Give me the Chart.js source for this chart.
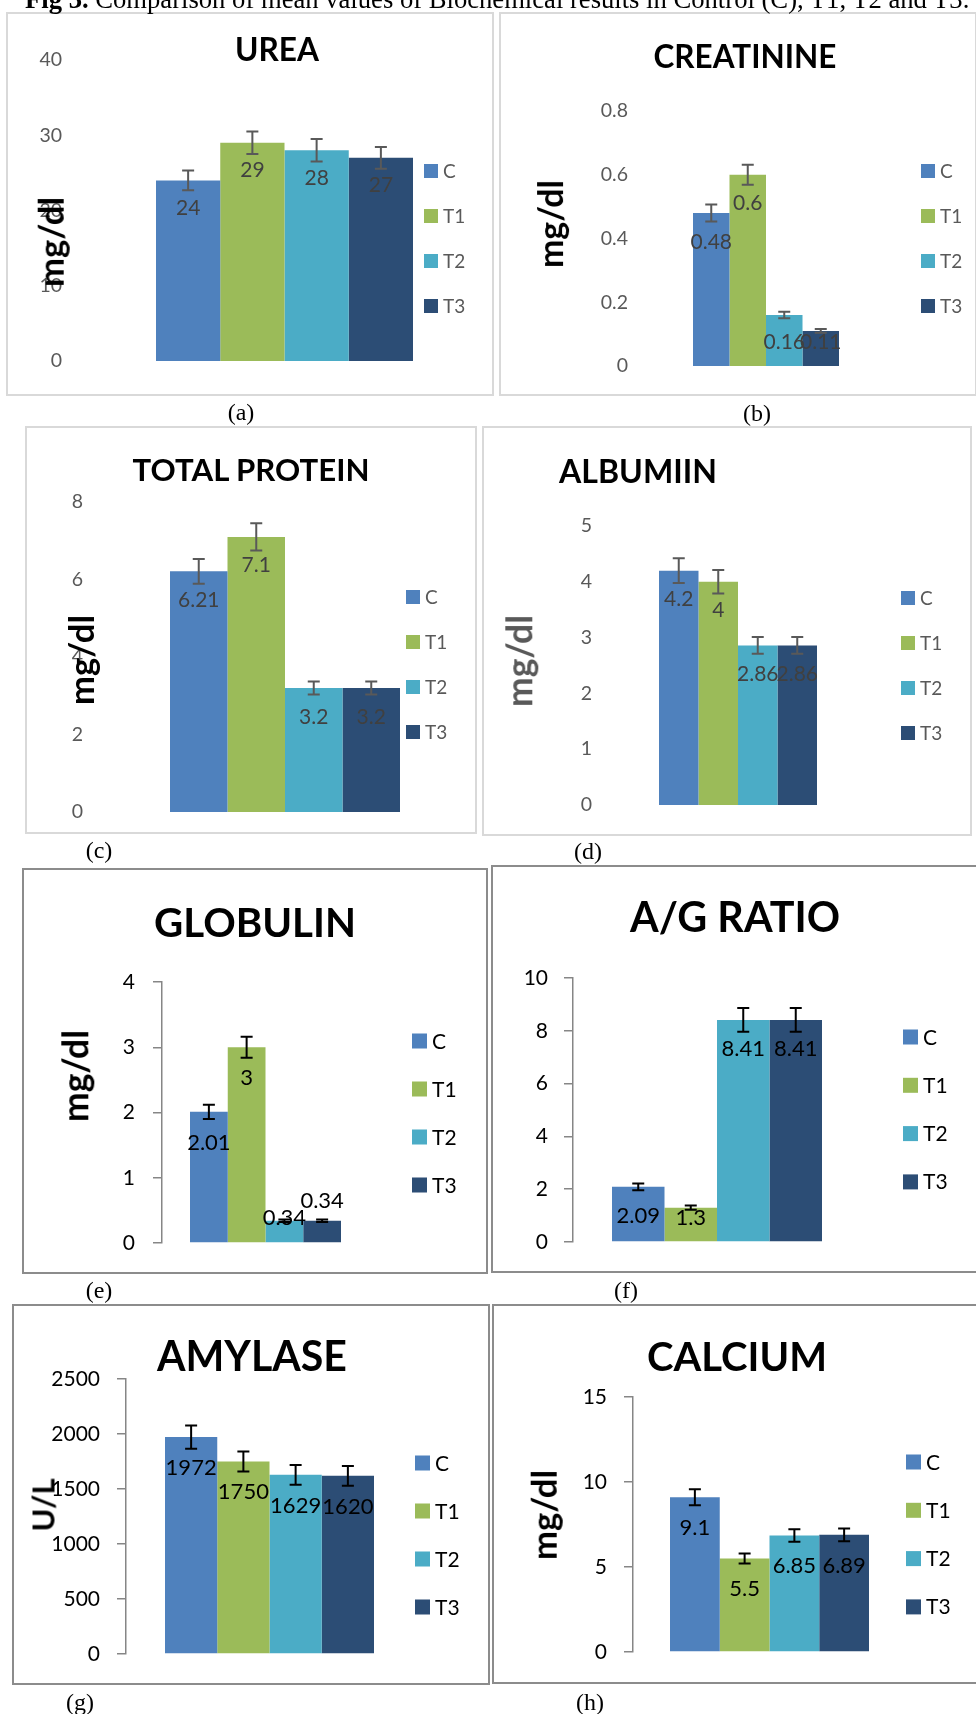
<!DOCTYPE html>
<html>
<head>
<meta charset="utf-8">
<script src="https://cdn.jsdelivr.net/npm/chart.js@4.4.1/dist/chart.umd.min.js"></script>
<style>
  html, body { margin: 0; padding: 0; background: #fff; }
  #page { position: relative; width: 976px; height: 1714px; overflow: hidden; background: #fff; }
  canvas.full { position: absolute; left: 0; top: 0; }
  .box { position: absolute; box-sizing: border-box; border: 2px solid #d9d9d9; }
  .t { position: absolute; white-space: nowrap; transform: translate(-50%, -50%); }
  .cap { position: absolute; white-space: nowrap; font-family: "Liberation Serif", serif; color: #000; line-height: 1; }
</style>
</head>
<body>
<div id="page"></div>
<script>
// ---------------- DATA ----------------
const SERIES = ['C', 'T1', 'T2', 'T3'];

const UREA = [24, 29, 28, 27];
const UREA_ERR = [1.3, 1.5, 1.5, 1.45];
const UREA_TICKS = [0, 10, 20, 30, 40];

const CREAT = [0.48, 0.6, 0.16, 0.11];
const CREAT_ERR = [0.027, 0.031, 0.01, 0.006];
const CREAT_TICKS = [0, 0.2, 0.4, 0.6, 0.8];

const TPROT = [6.21, 7.1, 3.2, 3.2];
const TPROT_ERR = [0.32, 0.35, 0.17, 0.17];
const TPROT_TICKS = [0, 2, 4, 6, 8];

const ALB = [4.2, 4, 2.86, 2.86];
const ALB_ERR = [0.22, 0.21, 0.15, 0.15];
const ALB_TICKS = [0, 1, 2, 3, 4, 5];

const GLOB = [2.01, 3, 0.34, 0.34];
const GLOB_ERR = [0.11, 0.16, 0.02, 0.02];
const GLOB_TICKS = [0, 1, 2, 3, 4];

const AGR = [2.09, 1.3, 8.41, 8.41];
const AGR_ERR = [0.13, 0.08, 0.45, 0.45];
const AGR_TICKS = [0, 2, 4, 6, 8, 10];

const AMY = [1972, 1750, 1629, 1620];
const AMY_ERR = [105, 91, 90, 90];
const AMY_TICKS = [0, 500, 1000, 1500, 2000, 2500];

const CALC = [9.1, 5.5, 6.85, 6.89];
const CALC_ERR = [0.47, 0.3, 0.37, 0.37];
const CALC_TICKS = [0, 5, 10, 15];

const CAPTION_BOLD = 'Fig 3.';
const CAPTION_TEXT = ' Comparison of mean values of Biochemical results in Control (C), T1, T2 and T3.';

// ---------------- STYLE / LAYOUT ----------------
const COLORS = ['#4F81BD', '#9BBB59', '#4BACC6', '#2C4D75'];

const PANELS = [
  { title: 'UREA', unit: 'mg/dl', vals: UREA, errs: UREA_ERR, ticks: UREA_TICKS, dark: false,
    box: [7, 13, 493, 395], titleXY: [277, 50], titleW: 84, unitXY: [51, 242], unitL: 90, unitColor: '#000',
    tickRight: 62, axisX: 72, top: 60, base: 361, group: [156, 413], leg: [424, 171, 45], letter: ['(a)', 241, 412], dy: 27 },
  { title: 'CREATININE', unit: 'mg/dl', vals: CREAT, errs: CREAT_ERR, ticks: CREAT_TICKS, dark: false,
    box: [500, 13, 976, 395], titleXY: [745, 57], titleW: 183, unitXY: [551, 224], unitL: 88, unitColor: '#000',
    tickRight: 628, axisX: 638, top: 111, base: 366, group: [693, 839], leg: [921, 171, 45], letter: ['(b)', 757, 413], dy: 28 },
  { title: 'TOTAL PROTEIN', unit: 'mg/dl', vals: TPROT, errs: TPROT_ERR, ticks: TPROT_TICKS, dark: false,
    box: [26, 427, 476, 833], titleXY: [251, 470], titleW: 238, unitXY: [81, 660], unitL: 90, unitColor: '#000',
    tickRight: 83, axisX: 93, top: 502, base: 812, group: [170, 400], leg: [406, 597, 45], letter: ['(c)', 99, 850], dy: 28 },
  { title: 'ALBUMIIN', unit: 'mg/dl', vals: ALB, errs: ALB_ERR, ticks: ALB_TICKS, dark: false,
    box: [483, 427, 971, 835], titleXY: [638, 471], titleW: 158, unitXY: [519, 661], unitL: 92, unitColor: '#595959',
    tickRight: 592, axisX: 602, top: 526, base: 805, group: [659, 817], leg: [901, 598, 45], letter: ['(d)', 588, 851], dy: 28 },
  { title: 'GLOBULIN', unit: 'mg/dl', vals: GLOB, errs: GLOB_ERR, ticks: GLOB_TICKS, dark: true,
    box: [23, 869, 487, 1273], titleXY: [255, 922], titleW: 202, unitXY: [75, 1076], unitL: 92, unitColor: '#000',
    tickRight: 135, axisX: 162, top: 982, base: 1243, group: [190, 341], leg: [412, 1041, 48], letter: ['(e)', 99, 1290], dy: [30, 30, -4, -21] },
  { title: 'A/G RATIO', unit: null, vals: AGR, errs: AGR_ERR, ticks: AGR_TICKS, dark: true,
    box: [492, 866, 995, 1272], titleXY: [735, 917], titleW: 210,
    tickRight: 548, axisX: 573, top: 978, base: 1242, group: [612, 822], leg: [903, 1037, 48.3], letter: ['(f)', 626, 1290], dy: 28 },
  { title: 'AMYLASE', unit: 'U/L', vals: AMY, errs: AMY_ERR, ticks: AMY_TICKS, dark: true,
    box: [13, 1305, 489, 1684], titleXY: [252, 1356], titleW: 190, unitXY: [43, 1505], unitL: 53, unitColor: '#000',
    tickRight: 100, axisX: 126, top: 1379, base: 1654, group: [165, 374], leg: [415, 1463, 48], letter: ['(g)', 80, 1702], dy: 30 },
  { title: 'CALCIUM', unit: 'mg/dl', vals: CALC, errs: CALC_ERR, ticks: CALC_TICKS, dark: true,
    box: [493, 1305, 995, 1683], titleXY: [737, 1356], titleW: 180, unitXY: [544, 1515], unitL: 90, unitColor: '#000',
    tickRight: 607, axisX: 633, top: 1397, base: 1652, group: [670, 869], leg: [906, 1462, 48.3], letter: ['(h)', 590, 1702], dy: 30 }
];

const W = 976, H = 1714, TL = 9;
const page = document.getElementById('page');
const mctx = document.createElement('canvas').getContext('2d');
function textW(txt, font) { mctx.font = font; return mctx.measureText(txt).width; }
function fitSize(txt, weight, family, target) { return 100 * target / textW(txt, `${weight} 100px ${family}`); }

Chart.defaults.font.family = 'Lato';

function addText(txt, cx, cy, size, weight, family, color, rotate) {
  const d = document.createElement('div');
  d.className = 't';
  d.textContent = txt;
  d.style.font = `${weight} ${size}px/1 ${family}`;
  d.style.color = color;
  d.style.left = cx + 'px';
  d.style.top = cy + 'px';
  if (rotate) d.style.transform = 'translate(-50%, -50%) rotate(-90deg)';
  page.appendChild(d);
  return d;
}

// boxes
PANELS.forEach(p => {
  const b = document.createElement('div');
  b.className = 'box';
  const [l, t, r, bt] = p.box;
  b.style.left = (l - 1) + 'px';
  b.style.top = (t - 1) + 'px';
  b.style.width = (r - l + 2) + 'px';
  b.style.height = (bt - t + 2) + 'px';
  b.style.borderColor = p.dark ? '#8c8c8c' : '#d9d9d9';
  page.appendChild(b);
});

function overlay(p) {
  return {
    id: 'overlay',
    afterDatasetsDraw(chart) {
      const ctx = chart.ctx;
      const ys = chart.scales.y;
      const base = ys.getPixelForValue(0);
      const lf = p.dark ? 22 : 21;
      ctx.save();
      // data labels
      ctx.font = `${lf}px Lato`;
      ctx.textAlign = 'center';
      ctx.textBaseline = 'alphabetic';
      ctx.fillStyle = p.dark ? '#000' : '#404040';
      p.vals.forEach((v, i) => {
        const el = chart.getDatasetMeta(i).data[0];
        const dy = Array.isArray(p.dy) ? p.dy[i] : p.dy;
        let cy = el.y + dy;
        if (dy > 0) cy = Math.min(cy, base - 25);
        ctx.fillText(String(v), el.x, cy + 0.36 * lf);
      });
      // error bars
      ctx.strokeStyle = p.dark ? '#000' : '#595959';
      ctx.lineWidth = 2;
      p.vals.forEach((v, i) => {
        const el = chart.getDatasetMeta(i).data[0];
        const y1 = ys.getPixelForValue(v + p.errs[i]);
        const y2 = ys.getPixelForValue(v - p.errs[i]);
        const x = el.x;
        ctx.beginPath();
        ctx.moveTo(x, y1); ctx.lineTo(x, y2);
        ctx.moveTo(x - 6, y1); ctx.lineTo(x + 6, y1);
        ctx.moveTo(x - 6, y2); ctx.lineTo(x + 6, y2);
        ctx.stroke();
      });
      // legend
      const [lx, ly, gap] = p.leg;
      const sq = p.dark ? 15 : 14;
      const tf = p.dark ? 21 : 19;
      ctx.font = `${tf}px Lato`;
      ctx.textAlign = 'left';
      chart.data.datasets.forEach((ds, i) => {
        const cy = ly + i * gap;
        ctx.fillStyle = ds.backgroundColor;
        ctx.fillRect(lx, cy - sq / 2, sq, sq);
        ctx.fillStyle = p.dark ? '#000' : '#595959';
        ctx.fillText(ds.label, lx + sq + 5, cy + 0.36 * tf);
      });
      ctx.restore();
    }
  };
}

PANELS.forEach(p => {
  const cv = document.createElement('canvas');
  cv.className = 'full';
  cv.width = W; cv.height = H;
  cv.style.width = W + 'px'; cv.style.height = H + 'px';
  page.appendChild(cv);

  const YW = p.axisX - p.box[0] - 3;
  const cx = (p.group[0] + p.group[1]) / 2;
  const R = 2 * cx - p.axisX;
  const cp = (p.group[1] - p.group[0]) / (R - p.axisX);
  const tl = p.dark ? TL : 0;
  const tpad = p.axisX - tl - p.tickRight;
  const tickCol = p.dark ? '#000' : '#595959';
  const tickSize = p.dark ? 21 : 19.5;
  const tks = p.ticks;

  new Chart(cv, {
    type: 'bar',
    data: {
      labels: [''],
      datasets: SERIES.map((s, i) => ({
        label: s,
        data: [p.vals[i]],
        backgroundColor: COLORS[i],
        borderWidth: 0,
        categoryPercentage: cp,
        barPercentage: 1
      }))
    },
    options: {
      responsive: false,
      maintainAspectRatio: false,
      animation: false,
      devicePixelRatio: 1,
      events: [],
      layout: { padding: { left: p.axisX - YW, right: W - R, top: p.top, bottom: H - p.base } },
      plugins: { legend: { display: false }, title: { display: false }, tooltip: { enabled: false } },
      scales: {
        x: { display: false, offset: true },
        y: {
          min: tks[0], max: tks[tks.length - 1],
          afterBuildTicks: sc => { sc.ticks = tks.map(v => ({ value: v })); },
          afterFit: sc => { sc.width = YW; },
          ticks: { callback: v => String(v), color: tickCol, font: { family: 'Lato', size: tickSize }, padding: tpad, autoSkip: false },
          grid: { display: p.dark, drawOnChartArea: false, drawTicks: p.dark, tickLength: tl, color: '#868686', lineWidth: 1.5 },
          border: { display: p.dark, color: '#868686', width: 1.5 }
        }
      }
    },
    plugins: [overlay(p)]
  });
});

// titles, units, letters
PANELS.forEach(p => {
  const ts = fitSize(p.title, 700, 'Lato', p.titleW);
  addText(p.title, p.titleXY[0], p.titleXY[1], ts, 700, 'Lato', '#000', false);
  if (p.unit) {
    const us = fitSize(p.unit, 700, 'Lato', p.unitL);
    addText(p.unit, p.unitXY[0], p.unitXY[1], us, 700, 'Lato', p.unitColor, true);
  }
  addText(p.letter[0], p.letter[1], p.letter[2], 24, 400, '"Liberation Serif"', '#000', false);
});

// caption (partly cut off at the top edge)
(function () {
  const target = 946;
  const w = textW(CAPTION_BOLD, 'bold 100px "Liberation Serif"') + textW(CAPTION_TEXT, '400 100px "Liberation Serif"');
  const fs = 100 * target / w;
  const d = document.createElement('div');
  d.className = 'cap';
  d.style.left = '25px';
  d.style.fontSize = fs + 'px';
  d.style.top = (8 - 0.8375 * fs) + 'px';
  const b = document.createElement('b');
  b.textContent = CAPTION_BOLD;
  d.appendChild(b);
  d.appendChild(document.createTextNode(CAPTION_TEXT));
  page.appendChild(d);
})();
</script>
</body>
</html>
